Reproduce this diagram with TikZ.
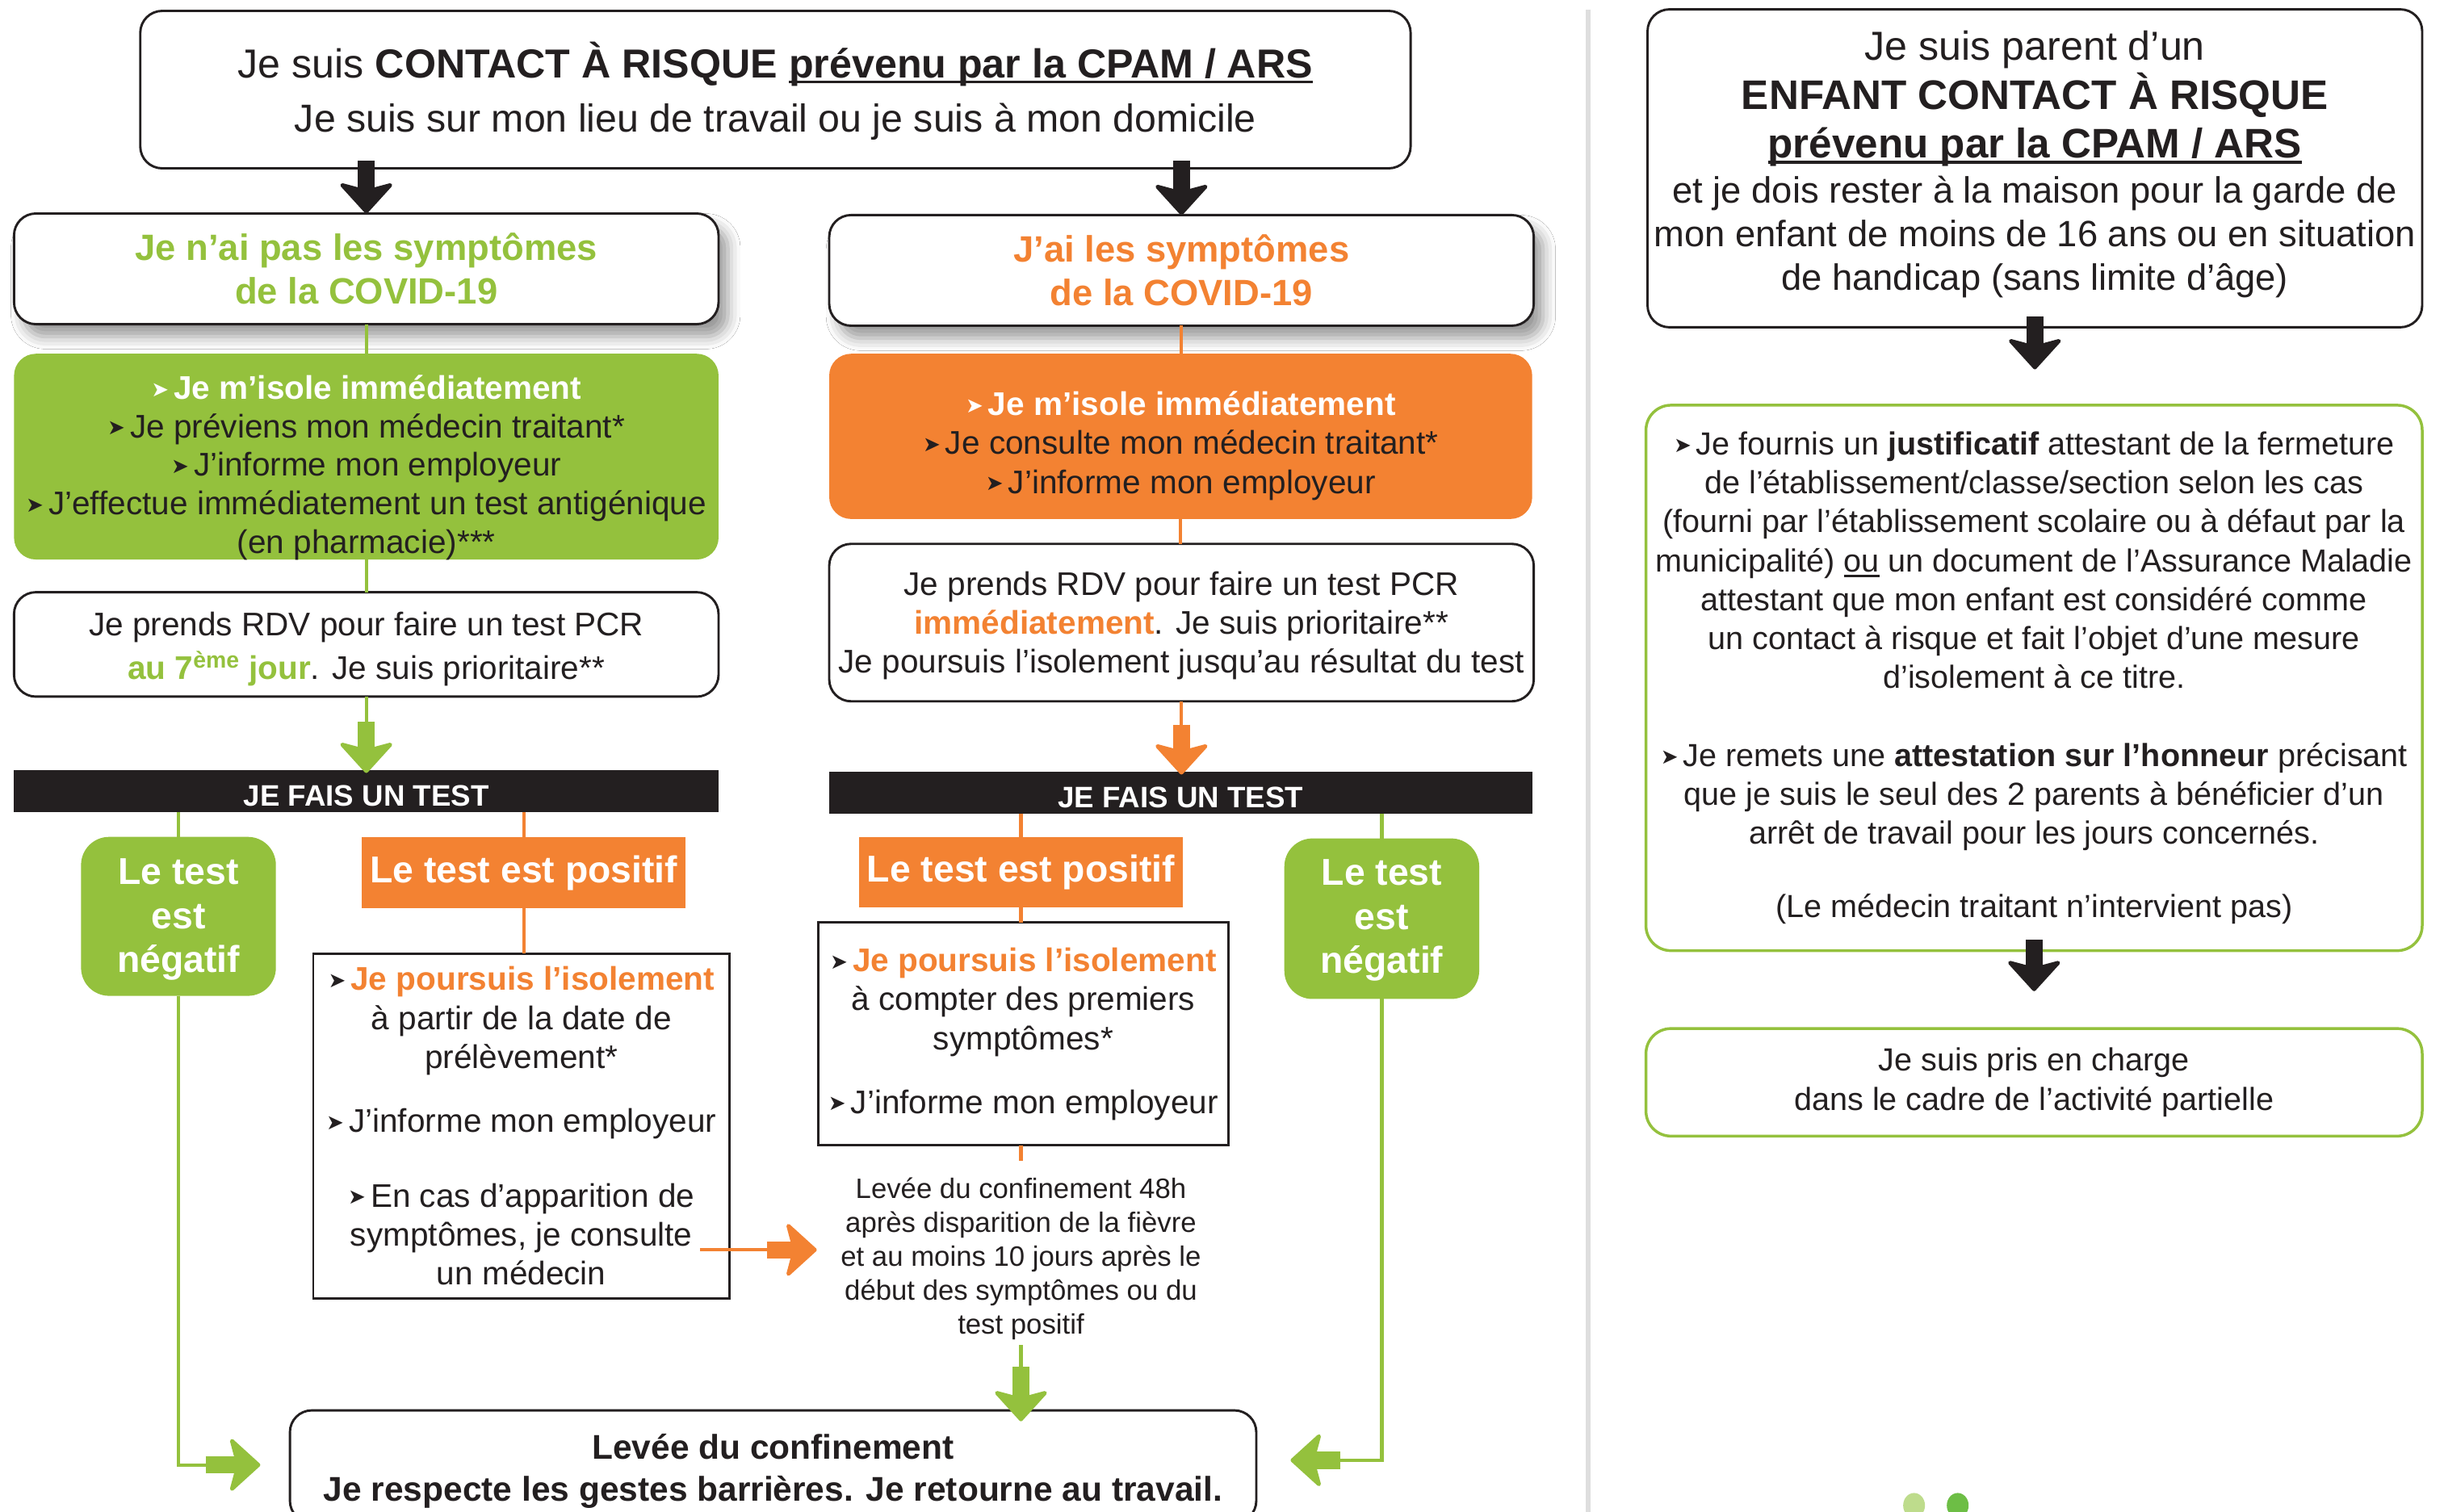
\documentclass[tikz,border=0pt]{standalone}
\usepackage{fontspec}
\setmainfont{Liberation Sans}
\newfontfamily\dejavu{DejaVu Sans}
\usetikzlibrary{arrows.meta,shadows,shadows.blur}
\definecolor{cgreen}{HTML}{94C13D}
\definecolor{corange}{HTML}{F38232}
\definecolor{ink}{HTML}{231F20}
\definecolor{sepgrey}{HTML}{DEDEDE}
\definecolor{dotlight}{HTML}{BEDC8C}
\definecolor{dotdark}{HTML}{6DBE45}
\newcommand{\fsz}[2]{\fontsize{#1}{#2}\selectfont}
\newcommand{\bul}{\raisebox{0.08em}{\dejavu\fontsize{13.5}{13.5}\selectfont ➤}\hspace{0.15em}}
\newcommand{\myul}[2][1.8pt]{\setbox0=\hbox{#2}\rlap{\rule[-3.5pt]{\wd0}{#1}}\box0\relax}
\begin{document}
\begin{tikzpicture}[x=1pt,y=-1pt,
  box/.style={inner sep=0pt, outer sep=0pt, align=center, text=ink},
  txt/.style={inner sep=0pt, outer sep=0pt, align=center, text=ink},
  wbox/.style={box, draw=ink, line width=1.5pt, fill=white, rounded corners=14pt},
  sbox/.style={wbox, blur shadow={shadow xshift=6pt, shadow yshift=-8pt, shadow blur radius=8pt, shadow opacity=40}},
  gfill/.style={box, fill=cgreen, rounded corners=14pt},
  ofill/.style={box, fill=corange, rounded corners=14pt},
  barbox/.style={box, fill=ink},
  bartxt/.style={txt, text=white, font=\bfseries\fsz{19}{20}},
  posbox/.style={box, fill=corange, text=white, font=\bfseries\fsz{24}{28}},
  negbox/.style={box, fill=cgreen, rounded corners=18pt},
  negtxt/.style={txt, text=white, font=\bfseries\fsz{24}{28}},
  rectbox/.style={box, draw=ink, line width=1.5pt, fill=white},
  gbox/.style={box, draw=cgreen, line width=1.8pt, fill=white, rounded corners=16pt},
  gline/.style={draw=cgreen, line width=2.2pt},
  oline/.style={draw=corange, line width=2.2pt},
  fattip/.style={-{Stealth[length=21pt, width=38pt, inset=5pt, line width'=2.5pt, round]}},
  gfat/.style={draw=cgreen, line width=11pt, fattip},
  ofat/.style={draw=corange, line width=11pt, fattip},
  kfat/.style={draw=ink, line width=11pt, fattip}
]
\useasboundingbox (0,0) rectangle (1568,970);
\fill[white] (0,0) rectangle (1568,970);

% separator
\draw[sepgrey, line width=3pt] (1019,6) -- (1019,970);

% ---------- left part ----------
\node[wbox, minimum width=815pt, minimum height=101pt] (top) at (497.5,57.5) {};
\node[txt, font=\fsz{26}{35}] (topt) at (497.5,58.5)
  {Je suis \textbf{CONTACT À RISQUE} \myul{\textbf{prévenu par la CPAM / ARS}}\\{\fsz{25}{35}Je suis sur mon lieu de travail ou je suis à mon domicile}};

\node[sbox, minimum width=452pt, minimum height=71pt, text=cgreen, font=\bfseries\fsz{23.5}{28}] (sL) at (235,172.5)
  {Je n’ai pas les symptômes\\de la COVID-19};
\node[sbox, minimum width=452pt, minimum height=71pt, text=corange, font=\bfseries\fsz{23.5}{28}] (sR) at (758,173.5)
  {J’ai les symptômes\\de la COVID-19};

\node[gfill, minimum width=452pt, minimum height=132pt] (isoL) at (235,293) {};
\node[txt, font=\fsz{21}{24.75}] (isoLt) at (235,300)
  {\textcolor{white}{\bfseries\bul Je m’isole immédiatement}\\\bul Je préviens mon médecin traitant*\\\bul J’informe mon employeur\\\bul J’effectue immédiatement un test antigénique\\(en pharmacie)***};
\node[ofill, minimum width=451pt, minimum height=106pt] (isoR) at (757.5,280) {};
\node[txt, font=\fsz{21}{25}] (isoRt) at (757.5,286)
  {\textcolor{white}{\bfseries\bul Je m’isole immédiatement}\\\bul Je consulte mon médecin traitant*\\\bul J’informe mon employeur};

\node[wbox, minimum width=452pt, minimum height=67pt] (rdvL) at (235,413.5) {};
\node[txt, font=\fsz{21}{28}] (rdvLt) at (235,416.5)
  {Je prends RDV pour faire un test PCR\\\textcolor{cgreen}{\bfseries au 7\textsuperscript{ème} jour}. Je suis prioritaire**};
\node[wbox, minimum width=452pt, minimum height=101pt] (rdvR) at (758,399.5) {};
\node[txt, font=\fsz{21}{25}] (rdvRt) at (758,401.5)
  {Je prends RDV pour faire un test PCR\\\textcolor{corange}{\bfseries immédiatement}. Je suis prioritaire**\\Je poursuis l’isolement jusqu’au résultat du test};

\node[barbox, minimum width=452pt, minimum height=27pt] (barL) at (235,507.5) {};
\node[bartxt] (barLt) at (235,510.5) {JE FAIS UN TEST};
\node[barbox, minimum width=451pt, minimum height=27pt] (barR) at (757.5,508.5) {};
\node[bartxt] (barRt) at (757.5,511.5) {JE FAIS UN TEST};

\node[negbox, minimum width=125pt, minimum height=102pt] (negL) at (114.5,588) {};
\node[negtxt] (negLt) at (114.5,590) {Le test\\est\\négatif};
\node[posbox, minimum width=208pt, minimum height=46pt] (posL) at (336,560) {Le test est positif};
\node[rectbox, minimum width=267pt, minimum height=221pt, font=\fsz{21}{25}] (boxL) at (334.5,722.5)
  {\bul\textcolor{corange}{\bfseries Je poursuis l’isolement}\\à partir de la date de\\prélèvement*\\[16pt]\bul J’informe mon employeur\\[23pt]\bul En cas d’apparition de\\symptômes, je consulte\\un médecin};

\node[posbox, minimum width=208pt, minimum height=45pt] (posR) at (655,559.5) {Le test est positif};
\node[rectbox, minimum width=263pt, minimum height=143pt, font=\fsz{21}{25}] (boxR) at (656.5,663.5)
  {\bul\textcolor{corange}{\bfseries Je poursuis l’isolement}\\à compter des premiers\\symptômes*\\[16pt]\bul J’informe mon employeur};
\node[negbox, minimum width=125pt, minimum height=103pt] (negR) at (886.5,589.5) {};
\node[negtxt] (negRt) at (886.5,590.5) {Le test\\est\\négatif};

\node[txt, font=\fsz{18}{21.75}] (lev) at (655,807.5)
  {Levée du confinement 48h\\après disparition de la fièvre\\et au moins 10 jours après le\\début des symptômes ou du\\test positif};

\node[wbox, minimum width=620pt, minimum height=72pt] (bot) at (496,941) {};
\node[txt, font=\bfseries\fsz{22}{27}] (bott) at (496,944)
  {Levée du confinement\\Je respecte les gestes barrières. Je retourne au travail.};

% connectors left part
\draw[kfat] ([yshift=5pt]top.south -| sL.north) -- (sL.north);
\draw[kfat] ([yshift=5pt]top.south -| sR.north) -- (sR.north);

\draw[gline] (sL.south) -- (sL.south |- isoL.north);
\draw[gline] (isoL.south) -- (isoL.south |- rdvL.north);
\draw[oline] (sR.south) -- (sR.south |- isoR.north);
\draw[oline] (isoR.south) -- (isoR.south |- rdvR.north);

\coordinate (gL1) at (235,463);
\draw[gline] (rdvL.south) -- (gL1);
\draw[gfat] (gL1) -- ([yshift=-2pt]rdvL.south |- barL.north);
\coordinate (oR1) at (758,465);
\draw[oline] (rdvR.south) -- (oR1);
\draw[ofat] (oR1) -- ([yshift=-2pt]rdvR.south |- barR.north);

\draw[gline] (barL.south -| negL.north) -- (negL.north);
\draw[oline] (barL.south -| posL.north) -- (posL.north);
\draw[oline] (posL.south) -- (posL.south |- boxL.north);
\draw[oline] (barR.south -| posR.north) -- (posR.north);
\draw[oline] (posR.south) -- (posR.south |- boxR.north);
\draw[gline] (barR.south -| negR.north) -- (negR.north);

\coordinate (levtop) at (655,745);
\draw[oline] (boxR.south -| levtop) -- (levtop);

\coordinate (oh1) at (492,802);
\coordinate (ohtip) at (524,802);
\draw[oline] ([xshift=-19pt]boxL.east |- oh1) -- (oh1);
\draw[ofat] (oh1) -- (ohtip);

\coordinate (gd0) at (655,863);
\coordinate (gd1) at (655,877);
\draw[gline] (gd0) -- (gd1);
\draw[gfat] (gd1) -- ([yshift=-7pt]bot.north -| gd1);

\coordinate (gLc) at (132,940);
\draw[gline] (negL.south) |- (gLc);
\draw[gfat] (gLc) -- ([xshift=-19pt]bot.west |- gLc);
\coordinate (gRc) at (860,937);
\draw[gline] (negR.south) |- (gRc);
\draw[gfat] (gRc) -- ([xshift=22pt]bot.east |- gRc);

% ---------- right panel ----------
\node[wbox, minimum width=497pt, minimum height=204pt] (pbox) at (1305.5,108) {};
\node[txt, font=\fsz{23.5}{28}] (pboxt) at (1305.5,105.5)
  {{\fsz{26}{28}Je suis parent d’un}\\[2pt]{\fsz{26.5}{30}\bfseries ENFANT CONTACT À RISQUE}\\[3pt]{\fsz{26.5}{30}\myul{\bfseries prévenu par la CPAM / ARS}}\\[1pt]et je dois rester à la maison pour la garde de\\mon enfant de moins de 16 ans ou en situation\\de handicap (sans limite d’âge)};

\node[gbox, minimum width=498pt, minimum height=350pt, font=\fsz{20.5}{25}] (jbox) at (1305,435)
  {\bul Je fournis un \textbf{justificatif} attestant de la fermeture\\de l’établissement/classe/section selon les cas\\(fourni par l’établissement scolaire ou à défaut par la\\municipalité) \myul[1.3pt]{ou} un document de l’Assurance Maladie\\attestant que mon enfant est considéré comme\\un contact à risque et fait l’objet d’une mesure\\d’isolement à ce titre.\\[25pt]\bul Je remets une \textbf{attestation sur l’honneur} précisant\\que je suis le seul des 2 parents à bénéficier d’un\\arrêt de travail pour les jours concernés.\\[22pt](Le médecin traitant n’intervient pas)};

\node[gbox, minimum width=498pt, minimum height=69pt, font=\fsz{20.5}{25}] (cbox) at (1305,694.5)
  {Je suis pris en charge\\dans le cadre de l’activité partielle};

\draw[kfat] ([yshift=7pt]pbox.south) -- ([yshift=23pt]pbox.south |- jbox.north);
\draw[kfat] ([yshift=7pt]jbox.south) -- ([yshift=24pt]jbox.south |- cbox.north);

\fill[dotlight] (1228,966) ellipse [x radius=7pt, y radius=8pt];
\fill[dotdark] (1256,966) ellipse [x radius=7pt, y radius=8pt];
\end{tikzpicture}
\end{document}
